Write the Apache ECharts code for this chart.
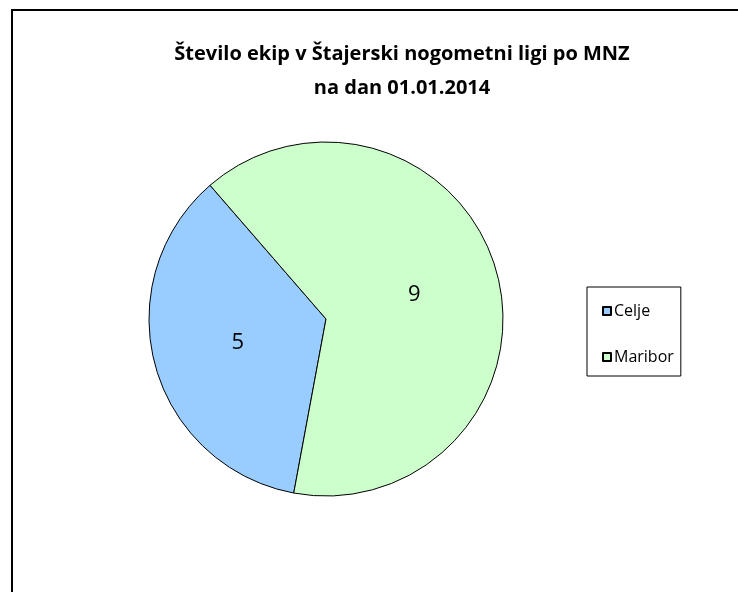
<!DOCTYPE html>
<html>
<head>
<meta charset="utf-8">
<script src="https://cdn.jsdelivr.net/npm/echarts@6/dist/echarts.min.js"></script>
<style>
  html, body { margin: 0; padding: 0; background: #fff; }
  #main { width: 738px; height: 592px; }
</style>
</head>
<body>
<div id="main"></div>
<script>
    // podatki
    var regije = ['Celje', 'Maribor'];
    var stEkip = [5, 9];
    var barve = ['#99CCFF', '#CCFFCC'];

    var myChart = echarts.init(document.getElementById('main'));

    var podatki = regije.map(function (r, i) {
        return { name: r, value: stEkip[i], itemStyle: { color: barve[i] } };
    });

    var option = {
        animation: false,
        backgroundColor: '#fff',
        title: {
            text: 'Število ekip v Štajerski nogometni ligi po MNZ\nna dan 01.01.2014',
            left: 397,
            top: 32,
            textAlign: 'center',
            textStyle: {
                fontFamily: 'Open Sans',
                fontWeight: 'bold',
                fontSize: 20,
                lineHeight: 34,
                color: '#000'
            }
        },
        legend: {
            orient: 'vertical',
            left: 587,
            top: 287,
            padding: [16, 7, 11, 15],
            itemGap: 30,
            itemWidth: 8,
            itemHeight: 8,
            icon: 'rect',
            borderColor: '#000',
            borderWidth: 1,
            textStyle: { fontFamily: 'Open Sans', fontSize: 16, color: '#000', padding: [0, 0, 0, -2] },
            data: regije
        },
        graphic: [{
            type: 'rect',
            shape: { x: 12, y: 10, width: 760, height: 620 },
            style: { fill: 'none', stroke: '#000', lineWidth: 2 },
            silent: true
        }],
        series: [{
            type: 'pie',
            center: [326, 319],
            radius: 177,
            startAngle: 259.5,
            clockwise: true,
            itemStyle: { borderColor: '#000', borderWidth: 1 },
            label: {
                show: true,
                position: 'inner',
                formatter: '{c}',
                fontFamily: 'Open Sans',
                fontSize: 22,
                color: '#000'
            },
            labelLine: { show: false },
            emphasis: { disabled: true },
            data: podatki
        }]
    };

    myChart.setOption(option);
</script>
</body>
</html>
